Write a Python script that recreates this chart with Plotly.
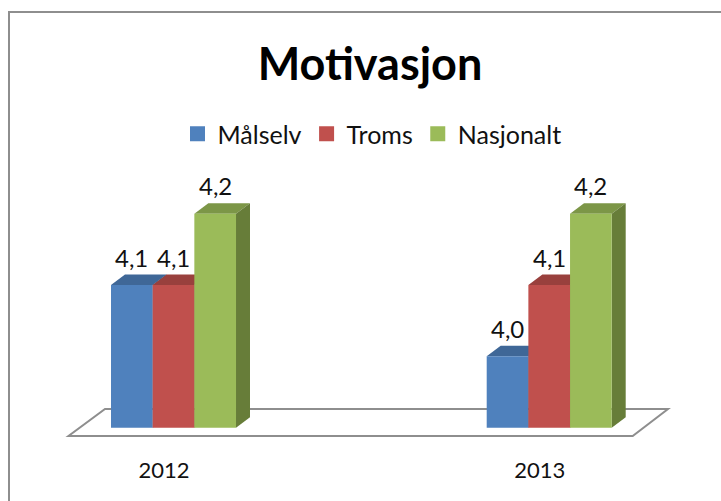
import plotly.graph_objects as go

categories = ["2012", "2013"]
series_names = ["Målselv", "Troms", "Nasjonalt"]
malselv = [4.1, 4.0]
troms = [4.1, 4.1]
nasjonalt = [4.2, 4.2]
series_values = [malselv, troms, nasjonalt]
front_colors = ["#4F81BD", "#C0504D", "#9BBB59"]
top_colors = ["#3F6797", "#99403D", "#7C9647"]
side_colors = ["#2F4D71", "#73302E", "#677D39"]

BASE = 3.9
W, H = 721, 501
PX_X = 375.7          # px per category
PX_Y = 713.3          # px per unit
X0_PX = 173.5
Y_BASE_PX = 427.7
MB = 46
PLOT_H = H - MB

x_range = [(0 - X0_PX) / PX_X, (W - X0_PX) / PX_X]
y_range = [BASE - (PLOT_H - Y_BASE_PX) / PX_Y, BASE + Y_BASE_PX / PX_Y]

BAR_W = 41.67 / PX_X
DX = 14 / PX_X
DY = 10.5 / PX_Y
TICK_SHIFT = 9.5 / PX_X


def poly(points):
    return "M" + " L".join(f"{x:.5f},{y:.5f}" for x, y in points) + " Z"


fig = go.Figure()
shapes = []

# floor
fl = [BASE - 8.3 / PX_Y, BASE + 18.7 / PX_Y]
fx = lambda px: (px - X0_PX) / PX_X
shapes.append(dict(type="path", xref="x", yref="y", layer="below",
                   path=poly([(fx(68.5), fl[0]), (fx(632.7), fl[0]), (fx(668), fl[1]), (fx(105), fl[1])]),
                   fillcolor="white", line=dict(color="#8E8E8E", width=2)))

for i, (name, vals) in enumerate(zip(series_names, series_values)):
    off = (i - 1) * BAR_W
    for c, v in enumerate(vals):
        l, r = c + off - BAR_W / 2, c + off + BAR_W / 2
        shapes.append(dict(type="path", xref="x", yref="y", layer="below", line_width=0,
                           fillcolor=top_colors[i],
                           path=poly([(l, v), (r, v), (r + DX, v + DY), (l + DX, v + DY)])))
        shapes.append(dict(type="path", xref="x", yref="y", layer="below", line_width=0,
                           fillcolor=side_colors[i],
                           path=poly([(r, BASE), (r + DX, BASE + DY), (r + DX, v + DY), (r, v)])))

for i, (name, vals) in enumerate(zip(series_names, series_values)):
    off = (i - 1) * BAR_W
    fig.add_trace(go.Bar(
        x=[0, 1], y=[v - BASE for v in vals], base=[BASE, BASE], name=name,
        marker=dict(color=front_colors[i], line_width=0), showlegend=False,
        width=BAR_W, offset=off - BAR_W / 2, hoverinfo="skip",
    ))
    for c, v in enumerate(vals):
        fig.add_annotation(x=c + off, y=v, yshift=28, yanchor="middle", showarrow=False,
                           text=f"{v:.1f}".replace(".", ","),
                           font=dict(family="Lato", size=24, color="#111111"))
    fig.add_trace(go.Scatter(x=[None], y=[None], mode="markers", name=name,
                             marker=dict(symbol="square", size=15, color=front_colors[i])))

# chart frame: left and top edges only
fig.add_shape(type="path", xref="paper", yref="paper", layer="above",
              path=f"M{9 / W},{-MB / PLOT_H} L{9 / W},{1 - 12 / PLOT_H} L1,{1 - 12 / PLOT_H}",
              line=dict(color="#8E8E8E", width=2))
for s in shapes:
    fig.add_shape(**s)

fig.update_layout(
    width=W, height=H, autosize=False,
    margin=dict(l=0, r=0, t=0, b=MB, pad=0),
    paper_bgcolor="white", plot_bgcolor="rgba(0,0,0,0)",
    barmode="overlay",
    font=dict(family="Lato", color="#111111"),
    title=dict(text="<b>Motivasjon</b>", x=370 / W, xanchor="center", y=1 - 64 / H, yanchor="middle",
               font=dict(family="Lato", size=45, color="#000000")),
    legend=dict(orientation="h", x=372 / W, xanchor="center", y=1 - 134 / PLOT_H, yanchor="middle",
                font=dict(family="Lato", size=25, color="#111111"), itemsizing="trace",
                bgcolor="rgba(0,0,0,0)"),
    xaxis=dict(range=x_range, tickmode="array", tickvals=[c - TICK_SHIFT for c in range(len(categories))],
               ticktext=categories,
               showgrid=False, zeroline=False, showline=False, ticks="", fixedrange=True,
               tickfont=dict(family="Lato", size=22, color="#111111")),
    yaxis=dict(range=y_range, visible=False, fixedrange=True),
)

fig.write_html("out.html", config={"displayModeBar": False},
               post_script="document.body.style.margin='0';")
